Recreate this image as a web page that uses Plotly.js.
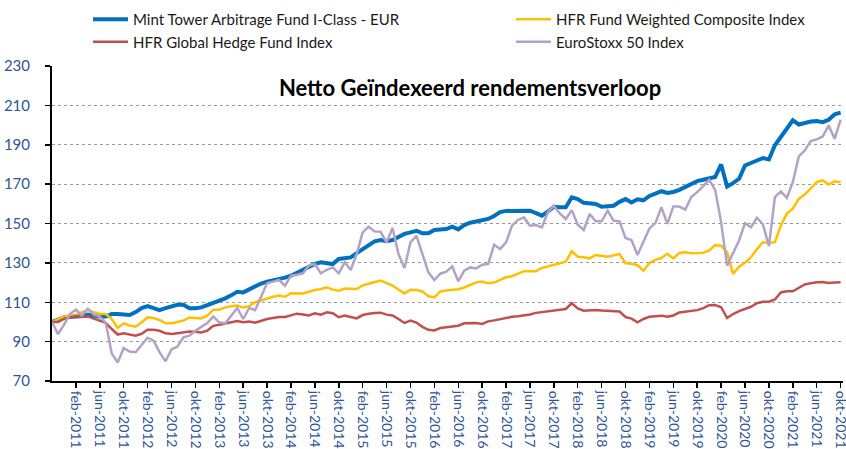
<!DOCTYPE html>
<html>
<head>
<meta charset="utf-8">
<script src="https://cdn.plot.ly/plotly-3.0.1.min.js"></script>
<style>html,body{margin:0;padding:0;background:#fff;}#chart{width:846px;height:449px;}</style>
</head>
<body>
<div id="chart"></div>
<script>
// Month names (Dutch) and start of the monthly series: okt-2010
const monthNames = ["jan","feb","mrt","apr","mei","jun","jul","aug","sep","okt","nov","dec"];
const startMonth = 9; // okt
const startYear = 2010;
const nMonths = 133;

const tickLabels = [
 "feb-2011","jun-2011","okt-2011","feb-2012","jun-2012","okt-2012","feb-2013","jun-2013","okt-2013",
 "feb-2014","jun-2014","okt-2014","feb-2015","jun-2015","okt-2015","feb-2016","jun-2016","okt-2016",
 "feb-2017","jun-2017","okt-2017","feb-2018","jun-2018","okt-2018","feb-2019","jun-2019","okt-2019",
 "feb-2020","jun-2020","okt-2020","feb-2021","jun-2021","okt-2021"
];

const mintTower = [
 100,101,102.3,102.5,102.7,103,103.7,103,102.7,102.7,
 104,104,104,103.5,105,107,108,107,106,107,
 107.8,108.7,108.7,107,107,107.4,108.5,109.6,111,112,
 113.5,115.3,115,116.5,118.4,119.5,120.5,121,121.5,122.5,
 123.5,125,126.5,128.5,129.5,130.3,130,129.4,132,132.5,
 132.8,135,137,138.5,140.9,141.6,141,141.6,143,144.7,
 145.5,146.3,145,145,146.7,147,147.2,148.4,147,149.2,
 150.4,151,151.5,152.3,153.8,155.8,156.4,156.5,156.6,156.8,
 156.5,155.3,154,156,158.5,158.2,158.2,163.3,162.4,160.5,
 160,159.9,158.5,159,159,161,162.4,160.7,162.3,161.8,
 164,165.2,166.4,165.5,166,167.1,168.5,170.2,171.5,172.2,
 173,173.6,180,168.8,170.5,172.7,179.5,181,182,183.2,
 182.5,189.7,194,198.5,202.4,200.3,201.3,201.8,202,201.5,
 202.7,205.5,206.3
];

const hfrComposite = [
 100,101.5,102.7,103.3,103.7,105,106,105,104.2,104,
 101.5,97,99.3,98.2,97.6,99.8,102.3,102,101,99.3,
 99.3,100,100.7,102.3,102,101.8,103.2,106.2,106.2,107.4,
 108,108.3,107.3,108,110,111,112,112.8,113.4,112.8,
 114.6,114.7,114.5,115.3,116.2,116.7,117.6,116.4,115.9,117,
 116.8,116.7,118.5,119.6,120.3,121,119.6,118.4,116.5,114.5,
 116.4,116.2,115.5,113,112.5,115.5,116,116.4,116.6,117.5,
 118.8,120.1,120.5,119.6,120,121.5,122.7,123.2,124.7,125.8,
 125.8,125.7,127.4,128.2,128.8,129.8,130.6,135.9,133.1,132.8,
 132.3,134,133.7,133.1,133.8,134.5,129.8,129.6,128.8,126,
 129.9,131.5,132.5,134.6,132.3,135,135.4,134.9,135,135.2,
 136.3,139,138.7,135.4,124.4,128,130,132.9,137,140.5,
 140.2,140.5,149,155,157.5,162.5,164.7,168,171,171.9,
 169.8,171.4,171
];

const hfrGlobal = [
 100,100,101.5,102.3,103,102.5,102.7,101.7,100.7,99.5,
 96.4,93.6,94.2,93.5,93,94,96,96,95.5,94.2,
 93.9,94.3,94.7,95.2,95,94.7,95.6,98,98.6,99.3,
 100,100.5,99.8,100.2,99.6,100.5,101.5,102,102.5,102.5,
 103.5,104.2,103.8,103.3,104.4,103.7,104.9,104.4,102.4,103.2,
 102.5,101.8,103.5,104.2,104.5,104.7,103.7,103.3,101.5,99.5,
 100.7,99.7,97.5,96,95.7,96.9,97.3,97.8,98.1,99.3,
 99.4,99.4,99,100.3,100.8,101.4,102.3,102.6,102.9,103.3,
 103.8,104.6,105,105.4,106,106.3,106.6,109.5,106.9,105.7,
 106,106.1,105.8,105.7,105.7,105.3,102.5,101.7,99.8,101.5,
 102.6,102.9,103.2,102.6,103.3,104.8,105.1,105.5,106,107,
 108.5,108.6,107.5,102,104,105.5,106.6,107.7,109.5,110.2,
 110.3,111.4,115,115.6,115.6,117.5,119,119.7,120.2,120.3,
 119.8,120,120.2
];

const euroStoxx = [
 100,93.8,98.5,104,106.2,103.3,106.7,103.7,102.8,99.5,
 84,79.4,86.7,85,84.6,88.2,92,90.5,84.7,80,
 86,87.5,92.2,93,95.5,97.5,99.5,102.7,99.8,99.3,
 103.2,107.1,101.5,107.1,106,113,119.6,120.5,121.3,118.4,
 123.5,124,124.7,128.6,129.4,124.7,126.5,127.7,124.7,130.3,
 126.4,134.5,145.5,148.4,146,145.8,140.4,147.7,134.5,127.4,
 140.4,143.8,134.5,125.2,121.3,124.5,125.5,128.2,120.6,126,
 127.7,127.2,129.1,129.4,139.2,137,140.4,148.9,151.8,153.1,
 148.9,149.2,148,155.7,159,155.1,152.3,156.8,149.4,146.7,
 154.8,151.1,151.1,156.5,151.4,151.1,142.6,141.6,134,140.5,
 147.5,150.2,158.3,149.8,158.6,158.6,157.1,163.4,165.9,169,
 172.2,167.1,150.7,128.6,135.4,141.4,150.2,148.1,152.9,149.5,
 138.5,163.4,166.3,163,171,184.1,187.1,191.9,192.7,194.2,
 199.8,193,202.7
];

const seriesNames = [
 "Mint Tower Arbitrage Fund I-Class - EUR",
 "HFR Fund Weighted Composite Index",
 "HFR Global Hedge Fund Index",
 "EuroStoxx 50 Index"
];

// category labels, one per month
const categories = [];
for (let k = 0; k < nMonths; k++) {
  const m = (startMonth + k) % 12;
  const y = startYear + Math.floor((startMonth + k) / 12);
  categories.push(monthNames[m] + "-" + y);
}

const FONT = "Lato, 'Open Sans', 'Liberation Sans', sans-serif";

const traces = [
  {x: categories, y: mintTower, name: seriesNames[0], type: "scatter", mode: "lines",
   legend: "legend", legendgroup: "a", line: {color: "#0070C0", width: 4}},
  {x: categories, y: hfrComposite, name: seriesNames[1], type: "scatter", mode: "lines",
   legend: "legend2", legendgroup: "b", line: {color: "#FFC000", width: 2.5}},
  {x: categories, y: hfrGlobal, name: seriesNames[2], type: "scatter", mode: "lines",
   legend: "legend", legendgroup: "c", line: {color: "#C0504D", width: 2.5}},
  {x: categories, y: euroStoxx, name: seriesNames[3], type: "scatter", mode: "lines",
   legend: "legend2", legendgroup: "d", line: {color: "#B3A2C7", width: 2.5}}
];

const legendCommon = {
  orientation: "v", yref: "container", y: 1 - 3 / 449, yanchor: "top", xref: "paper", xanchor: "left",
  itemwidth: 35, tracegroupgap: 6, font: {family: FONT, size: 15, color: "#1a1a1a"},
  bgcolor: "rgba(0,0,0,0)", traceorder: "normal"
};

const layout = {
  width: 846, height: 449,
  paper_bgcolor: "#ffffff", plot_bgcolor: "#ffffff",
  margin: {l: 52, r: 3, t: 66, b: 68},
  font: {family: FONT, size: 14, color: "#000"},
  title: {text: "<b>Netto Geïndexeerd rendementsverloop</b>",
          x: 0.5556, xanchor: "center", y: 0.804, yanchor: "middle",
          font: {family: FONT, size: 22, color: "#000"}},
  showlegend: true,
  legend: Object.assign({}, legendCommon, {x: 0.0455}),
  legend2: Object.assign({}, legendCommon, {x: 0.5803}),
  xaxis: {type: "category", range: [0, 132.4], tickmode: "array",
          tickvals: tickLabels, ticktext: tickLabels, tickangle: 90,
          showgrid: false, zeroline: false, automargin: false,
          showline: true, linecolor: "#000", linewidth: 2,
          ticks: "outside", ticklen: 5, tickcolor: "#000", tickwidth: 1.5,
          tickfont: {family: FONT, size: 14, color: "#2F5597"}, fixedrange: true},
  yaxis: {range: [70, 230], dtick: 20, tick0: 70, automargin: false,
          showgrid: true, gridcolor: "#9a9a9a", gridwidth: 1, griddash: "dot",
          zeroline: false, showline: true, linecolor: "#000", linewidth: 2,
          ticks: "outside", ticklen: 5, tickcolor: "#000", tickwidth: 1.5,
          ticklabelstandoff: 12,
          tickfont: {family: FONT, size: 15, color: "#2F5597"}, fixedrange: true}
};

Plotly.newPlot("chart", traces, layout, {displayModeBar: false, staticPlot: true});
</script>
</body>
</html>
